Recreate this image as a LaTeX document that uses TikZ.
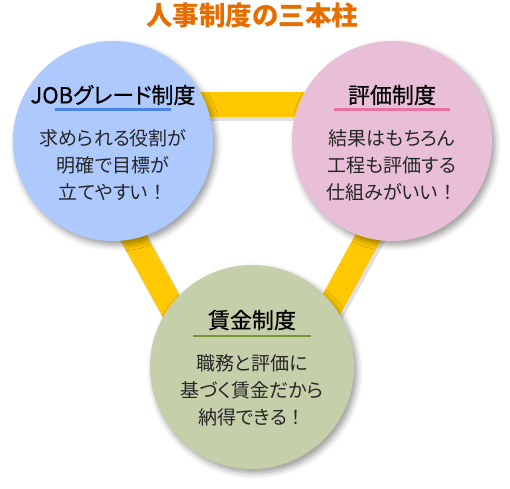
\documentclass[tikz,border=0pt]{standalone}
\usepackage{fontspec}
\setmainfont{Noto Sans CJK JP}[RawFeature=+palt]
\newfontfamily\titlefont{Noto Sans CJK JP}
\newfontface\headfont{Noto Sans CJK JP}[FakeBold=0.6, RawFeature=+palt]
\newcommand{\bang}{{\titlefont ！}}
\usetikzlibrary{shadows.blur}
\definecolor{titleorange}{HTML}{E66E00}
\definecolor{baryellow}{HTML}{FFC800}
\definecolor{jobblue}{HTML}{ADC9FE}
\definecolor{evalpink}{HTML}{E8BFD6}
\definecolor{wagegreen}{HTML}{C5D0AB}
\definecolor{jobline}{HTML}{4A86E8}
\definecolor{evalline}{HTML}{E872A4}
\definecolor{wageline}{HTML}{779535}
\tikzset{
  pillar/.style={circle, minimum size=200pt, inner sep=0pt,
    blur shadow={shadow xshift=3pt, shadow yshift=-4pt, shadow blur radius=6pt, shadow opacity=40}},
  bar/.style={draw=baryellow, line width=25pt},
  barshadow/.style={draw=black, opacity=0.12, line width=27pt},
  heading/.style={font=\headfont\fontsize{22}{22}\selectfont, inner sep=0pt},
  body/.style={font=\fontsize{19}{27}\selectfont, align=center, text=black!85, inner sep=0pt},
  headline/.style={line width=2.5pt}
}
\begin{document}
\begin{tikzpicture}[x=1pt, y=-1pt]
    \useasboundingbox (0,0) rectangle (510,488);
    % Title
    \node[font=\titlefont\bfseries\fontsize{26.5}{26.5}\selectfont, text=titleorange] (title) at (252,15) {人事制度の三本柱};
    % Corners of the yellow frame
    \coordinate (tl) at (60,104.5);
    \coordinate (tr) at (441,104.5);
    \coordinate (bt) at (251,451);
    \draw[barshadow] ([xshift=2pt, yshift=-3pt]tl) -- ([xshift=2pt, yshift=-3pt]tr);
    \draw[barshadow] ([xshift=2pt, yshift=-3pt]tl) -- ([xshift=2pt, yshift=-3pt]bt);
    \draw[barshadow] ([xshift=2pt, yshift=-3pt]tr) -- ([xshift=2pt, yshift=-3pt]bt);
    \draw[bar] (tl) -- (tr);
    \draw[bar] (tl) -- (bt);
    \draw[bar] (tr) -- (bt);
    % Pillars
    \node[pillar, fill=jobblue] (job) at (113,141) {};
    \node[pillar, fill=evalpink] (eval) at (392,141) {};
    \node[pillar, fill=wagegreen, minimum size=204pt] (wage) at (252,367) {};
    % JOB grade
    \node[heading] (jobhd) at ([yshift=46pt]job.center) {JOBグレード制度};
    \draw[headline, jobline] ([xshift=-58pt, yshift=-14.5pt]jobhd.center) -- ([xshift=58pt, yshift=-14.5pt]jobhd.center);
    \node[body] (jobtxt) at ([yshift=-24pt]job.center) {求められる役割が\\明確で目標が\\立てやすい\bang};
    % Evaluation
    \node[heading] (evalhd) at ([yshift=46pt]eval.center) {評価制度};
    \draw[headline, evalline] ([xshift=-58pt, yshift=-14.5pt]evalhd.center) -- ([xshift=58pt, yshift=-14.5pt]evalhd.center);
    \node[body] (evaltxt) at ([yshift=-24pt]eval.center) {結果はもちろん\\工程も評価する\\仕組みがいい\bang};
    % Wages
    \node[heading] (wagehd) at ([yshift=47pt]wage.center) {賃金制度};
    \draw[headline, wageline] ([xshift=-59pt, yshift=-16pt]wagehd.center) -- ([xshift=59pt, yshift=-16pt]wagehd.center);
    \node[body] (wagetxt) at ([yshift=-23pt]wage.center) {職務と評価に\\基づく賃金だから\\納得できる\bang};
\end{tikzpicture}
\end{document}
